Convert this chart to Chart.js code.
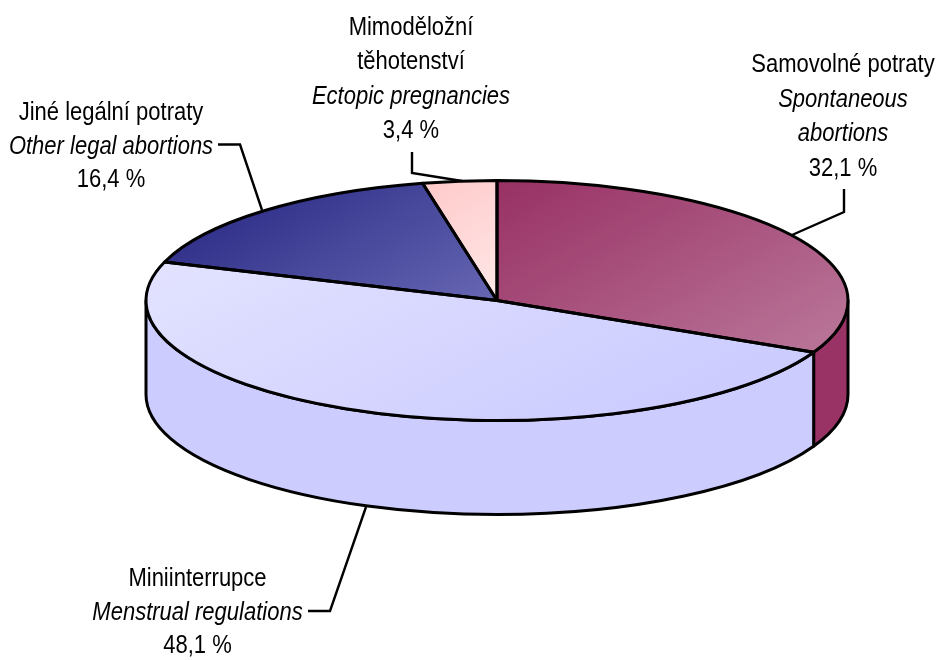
<!DOCTYPE html>
<html>
<head>
<meta charset="utf-8">
<title>Potraty</title>
<script src="https://cdn.jsdelivr.net/npm/chart.js@4/dist/chart.umd.min.js"></script>
<style>
    html, body { margin: 0; padding: 0; background: #fff; }
    canvas { display: block; }
</style>
</head>
<body>
<canvas id="pie3d" width="940" height="660"></canvas>
<script>
// ===== Data =====
const categoriesCs = ['Samovolné potraty', 'Miniinterrupce', 'Jiné legální potraty', 'Mimoděložní těhotenství'];
const categoriesEn = ['Spontaneous abortions', 'Menstrual regulations', 'Other legal abortions', 'Ectopic pregnancies'];
const values = [32.1, 48.1, 16.4, 3.4];

// ===== Colours =====
const sideColors = ['#993366', '#ccccff', '#333399', '#ffcccc'];
const gradStops = [
    ['#993366', '#b87296'],
    ['#e2e2ff', '#ccccff'],
    ['#2e2e88', '#6666b3'],
    ['#ffcccc', '#ffe6e6']
];
// gradient ends in page pixels, per slice
const gradLines = [
    [[510, 185], [652, 433]],
    [[165, 265], [310, 575]],
    [[200, 215], [310, 405]],
    [[440, 185], [500, 290]]
];

// ===== Ellipse of the pie top =====
const cx = 497, cy = 300.5, rx = 351, ry = 120, depth = 94;
const lineW = 3;

// ===== Labels: each block is lines + centre x + first baseline =====
const labelBlocks = [
    { x: 843, y: 72, step: 34.6, lines: [['Samovolné potraty', 0], ['Spontaneous', 1], ['abortions', 1], [pct(0), 0]] },
    { x: 197.5, y: 586, step: 33.5, lines: [['Miniinterrupce', 0], ['Menstrual regulations', 1], [pct(1), 0]] },
    { x: 111, y: 120, step: 33.5, lines: [['Jiné legální potraty', 0], ['Other legal abortions', 1], [pct(2), 0]] },
    { x: 411, y: 35, step: 34.3, lines: [['Mimoděložní', 0], ['těhotenství', 0], ['Ectopic pregnancies', 1], [pct(3), 0]] }
];
const leaders = [
    [[844, 189], [844, 212], [792, 235]],
    [[308, 611], [330, 611], [366, 507]],
    [[218, 144.5], [240, 144.5], [262, 210]],
    [[412, 152], [412, 173], [462, 181]]
];
const textSqueeze = 0.88;

function pct(i) {
    return values[i].toFixed(1).replace('.', ',') + ' %';
}

function sliceFill(context) {
    const area = context.chart.chartArea;
    if (!area) return sideColors[context.dataIndex];
    // the pie sits in the middle of the chart area, map page pixels back to it
    const px = (area.left + area.right) / 2;
    const py = (area.top + area.bottom) / 2;
    const r = Math.min(area.right - area.left, area.bottom - area.top) / 2;
    const line = gradLines[context.dataIndex];
    const dx = line[1][0] - line[0][0], dy = line[1][1] - line[0][1];
    const len2 = dx * dx + dy * dy;
    // page gradient vector, rewritten for the squashed space so the bands stay straight on the page
    const gx = dx / len2 * rx / r, gy = dy / len2 * ry / r;
    const g2 = gx * gx + gy * gy;
    const u0 = px + (line[0][0] - cx) * r / rx, v0 = py + (line[0][1] - cy) * r / ry;
    const g = context.chart.ctx.createLinearGradient(u0, v0, u0 + gx / g2, v0 + gy / g2);
    g.addColorStop(0, gradStops[context.dataIndex][0]);
    g.addColorStop(1, gradStops[context.dataIndex][1]);
    return g;
}

const pie3dPlugin = {
    id: 'pie3d',
    beforeDatasetsDraw(chart) {
        const ctx = chart.ctx;
        const arcs = chart.getDatasetMeta(0).data;

        // side wall: only the front half of the ellipse is visible
        arcs.forEach((arc, i) => {
            const a0 = Math.max(arc.startAngle, 0);
            const a1 = Math.min(arc.endAngle, Math.PI);
            if (a1 <= a0) return;
            ctx.save();
            ctx.beginPath();
            ctx.ellipse(cx, cy, rx, ry, 0, a0, a1);
            ctx.ellipse(cx, cy + depth, rx, ry, 0, a1, a0, true);
            ctx.closePath();
            ctx.fillStyle = sideColors[i];
            ctx.fill();
            ctx.lineWidth = lineW;
            ctx.lineJoin = 'round';
            ctx.strokeStyle = '#000';
            ctx.stroke();
            ctx.restore();
        });

        // squash the library's round pie into the ellipse
        const first = arcs[0];
        const k = first.outerRadius;
        ctx.save();
        ctx.translate(cx, cy);
        ctx.scale(rx / k, ry / k);
        ctx.translate(-first.x, -first.y);
    },
    afterDatasetsDraw(chart) {
        const ctx = chart.ctx;
        ctx.restore();

        // outlines after the restore, so the pen width stays even
        ctx.save();
        ctx.strokeStyle = '#000';
        ctx.lineWidth = lineW;
        ctx.lineJoin = 'round';
        chart.getDatasetMeta(0).data.forEach(arc => {
            ctx.beginPath();
            ctx.moveTo(cx, cy);
            ctx.ellipse(cx, cy, rx, ry, 0, arc.startAngle, arc.endAngle);
            ctx.closePath();
            ctx.stroke();
        });

        // leader lines
        ctx.lineWidth = 2.4;
        ctx.lineJoin = 'miter';
        leaders.forEach(pts => {
            ctx.beginPath();
            pts.forEach((p, i) => i ? ctx.lineTo(p[0], p[1]) : ctx.moveTo(p[0], p[1]));
            ctx.stroke();
        });

        // labels, the original face is tall and narrow
        ctx.fillStyle = '#000';
        ctx.textAlign = 'center';
        ctx.textBaseline = 'alphabetic';
        labelBlocks.forEach(block => {
            block.lines.forEach((ln, i) => {
                ctx.save();
                ctx.translate(block.x, block.y + i * block.step);
                ctx.scale(textSqueeze, 1);
                ctx.font = (ln[1] ? 'italic ' : '') + '25px "Liberation Sans", Arial, sans-serif';
                ctx.fillText(ln[0], 0, 0);
                ctx.restore();
            });
        });
        ctx.restore();
    }
};

new Chart(document.getElementById('pie3d'), {
    type: 'pie',
    data: {
        labels: categoriesCs.map((c, i) => c + ' / ' + categoriesEn[i]),
        datasets: [{
            data: values,
            backgroundColor: sliceFill,
            borderWidth: 0
        }]
    },
    options: {
        responsive: false,
        animation: false,
        rotation: 0,
        layout: { padding: 0 },
        plugins: {
            legend: { display: false },
            tooltip: { enabled: false }
        }
    },
    plugins: [pie3dPlugin]
});
</script>
</body>
</html>
